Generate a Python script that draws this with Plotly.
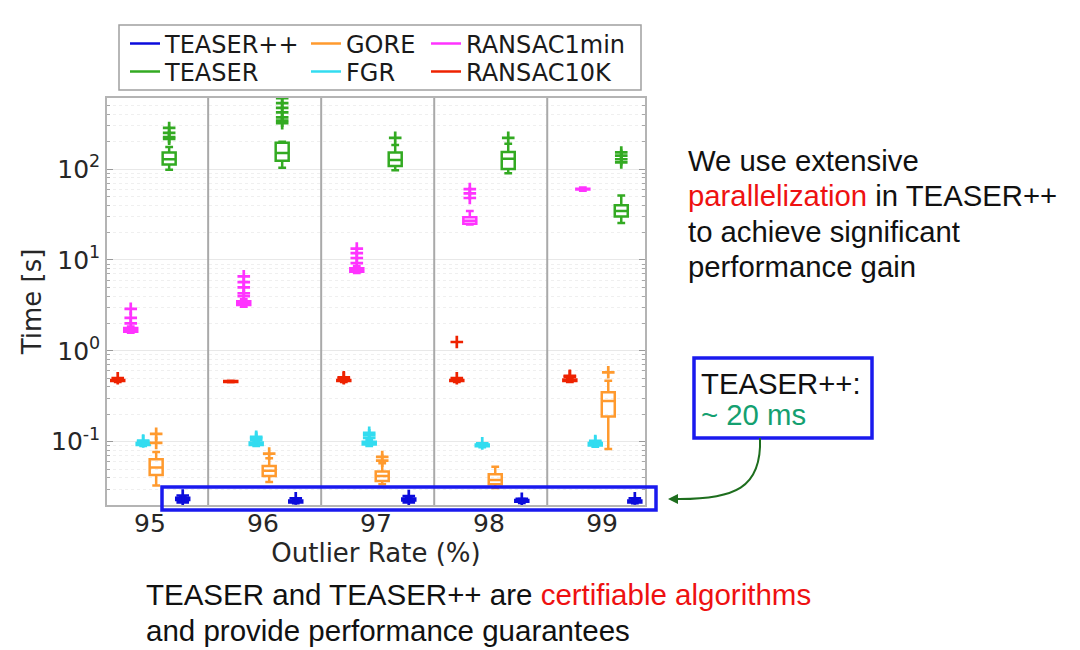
import plotly.graph_objects as go

# ---------------- data ----------------
rates = [95, 96, 97, 98, 99]
tick_text = ["95", "96", "97", "98", "99"]

algorithms = ["RANSAC10K", "RANSAC1min", "FGR", "GORE", "TEASER", "TEASER++"]

ransac10k_q1 = [0.465, 0.455, 0.465, 0.465, 0.465]
ransac10k_med = [0.470, 0.460, 0.470, 0.470, 0.475]
ransac10k_q3 = [0.478, 0.465, 0.478, 0.478, 0.485]
ransac10k_lo = [0.455, 0.452, 0.455, 0.455, 0.455]
ransac10k_hi = [0.490, 0.468, 0.490, 0.490, 0.500]
ransac10k_out = [[0.50], [], [0.50, 0.51], [0.50, 1.25], [0.52, 0.53]]

ransac1min_q1 = [1.62, 3.20, 7.4, 25.0, 59.5]
ransac1min_med = [1.70, 3.35, 7.7, 27.0, 60.0]
ransac1min_q3 = [1.78, 3.50, 8.1, 29.5, 60.5]
ransac1min_lo = [1.58, 3.05, 7.2, 24.5, 57.5]
ransac1min_hi = [1.85, 3.70, 8.5, 34.5, 62.5]
ransac1min_out = [[2.0, 2.3, 2.9], [4.0, 4.3, 5.0, 5.7, 6.6], [9.2, 10.5, 11.9, 13.3], [48, 54, 60], []]

fgr_q1 = [0.092, 0.092, 0.093, 0.089, 0.091]
fgr_med = [0.094, 0.095, 0.096, 0.091, 0.094]
fgr_q3 = [0.097, 0.098, 0.100, 0.093, 0.097]
fgr_lo = [0.090, 0.090, 0.090, 0.087, 0.088]
fgr_hi = [0.100, 0.102, 0.105, 0.095, 0.100]
fgr_out = [[0.101, 0.103], [0.105, 0.110, 0.113], [0.110, 0.118, 0.125], [0.096], [0.100, 0.102]]

gore_q1 = [0.043, 0.042, 0.037, 0.034, 0.19]
gore_med = [0.052, 0.048, 0.042, 0.038, 0.28]
gore_q3 = [0.064, 0.054, 0.047, 0.044, 0.35]
gore_lo = [0.033, 0.036, 0.034, 0.031, 0.083]
gore_hi = [0.077, 0.066, 0.058, 0.053, 0.47]
gore_out = [[0.097, 0.122], [0.074], [0.062, 0.068], [], [0.58]]

teaser_q1 = [112, 123, 108, 100, 30]
teaser_med = [128, 150, 126, 130, 34.5]
teaser_q3 = [152, 194, 152, 154, 40]
teaser_lo = [98, 103, 97, 90, 25.5]
teaser_hi = [175, 200, 184, 190, 51]
teaser_out = [[215, 225, 250, 283], [320, 340, 370, 420, 470, 530, 600], [220], [220], [118, 128, 140, 152]]

teaserpp_q1 = [0.0228, 0.0215, 0.0226, 0.0218, 0.0215]
teaserpp_med = [0.0235, 0.0220, 0.0232, 0.0222, 0.0220]
teaserpp_q3 = [0.0242, 0.0225, 0.0238, 0.0228, 0.0225]
teaserpp_lo = [0.0220, 0.0210, 0.0220, 0.0212, 0.0210]
teaserpp_hi = [0.0250, 0.0232, 0.0246, 0.0234, 0.0232]
teaserpp_out = [[0.0215, 0.0256], [0.0238], [0.0215, 0.0252], [0.0236], [0.0238]]

stats = {
    "RANSAC10K": (ransac10k_q1, ransac10k_med, ransac10k_q3, ransac10k_lo, ransac10k_hi, ransac10k_out),
    "RANSAC1min": (ransac1min_q1, ransac1min_med, ransac1min_q3, ransac1min_lo, ransac1min_hi, ransac1min_out),
    "FGR": (fgr_q1, fgr_med, fgr_q3, fgr_lo, fgr_hi, fgr_out),
    "GORE": (gore_q1, gore_med, gore_q3, gore_lo, gore_hi, gore_out),
    "TEASER": (teaser_q1, teaser_med, teaser_q3, teaser_lo, teaser_hi, teaser_out),
    "TEASER++": (teaserpp_q1, teaserpp_med, teaserpp_q3, teaserpp_lo, teaserpp_hi, teaserpp_out),
}

# ---------------- style ----------------
colors = {
    "TEASER++": "#0b0bdc",
    "TEASER": "#33aa22",
    "GORE": "#ff9a2e",
    "FGR": "#33dcf0",
    "RANSAC1min": "#ff33ff",
    "RANSAC10K": "#ee2200",
}
offsets = {"RANSAC10K": -0.285, "RANSAC1min": -0.17, "FGR": -0.06, "GORE": 0.055,
           "TEASER": 0.17, "TEASER++": 0.29}

CHART_FONT = "DejaVu Sans"
SLIDE_FONT = "Liberation Sans"

fig = go.Figure()

for name in algorithms:
    q1, med, q3, lo, hi, out = stats[name]
    xs = [r + offsets[name] for r in rates]
    fig.add_trace(go.Box(
        x=xs, q1=q1, median=med, q3=q3, lowerfence=lo, upperfence=hi,
        name=name, showlegend=False, boxpoints=False,
        width=0.115, whiskerwidth=0.6,
        line=dict(color=colors[name], width=2.5),
        fillcolor="rgba(255,255,255,0)",
        hoverinfo="skip",
    ))
    ox, oy = [], []
    for r, vals in zip(rates, out):
        for v in vals:
            ox.append(r + offsets[name])
            oy.append(v)
    fig.add_trace(go.Scatter(
        x=ox, y=oy, mode="markers", showlegend=False,
        marker=dict(symbol="cross-thin", size=9, color=colors[name],
                    line=dict(color=colors[name], width=2.7)),
        hoverinfo="skip",
    ))

# ---------------- geometry (page is offset by the 8px body margin) ----------------
PAGE_OFF = 8
W, H = 1080 - PAGE_OFF, 650 - PAGE_OFF
L, R, T, B = 107, 645, 98, 505          # plot area in screen pixels
pw, ph = R - L, B - T


def px(xp):
    return (xp - L) / pw


def py(yp):
    return (B - yp) / ph


# legend: one legend per entry, placed in a 3x2 grid
legend_slots = [
    ("TEASER++", 125, 44), ("GORE", 306, 44), ("RANSAC1min", 426, 44),
    ("TEASER", 125, 72), ("FGR", 306, 72), ("RANSAC10K", 426, 72),
]
legend_layout = {}
for i, (name, lx, lyp) in enumerate(legend_slots):
    key = "legend" if i == 0 else "legend%d" % (i + 1)
    fig.add_trace(go.Scatter(
        x=[None], y=[None], mode="lines", name=name, legend=key,
        line=dict(color=colors[name], width=2.5), showlegend=True,
    ))
    legend_layout[key] = dict(
        x=px(lx), y=py(lyp), xanchor="left", yanchor="middle", orientation="v",
        bgcolor="rgba(0,0,0,0)", borderwidth=0, itemclick=False,
        font=dict(family=CHART_FONT, size=24, color="#1a1a1a"))

minor_vals = []
for e in [0.01, 0.1, 1, 10, 100]:
    for k in range(2, 10):
        minor_vals.append(k * e)

fig.update_layout(
    width=W, height=H,
    margin=dict(l=L - PAGE_OFF, r=W - (R - PAGE_OFF), t=T - PAGE_OFF, b=H - (B - PAGE_OFF)),
    paper_bgcolor="white", plot_bgcolor="white",
    boxmode="overlay",
    font=dict(family=CHART_FONT, color="#262626"),
    xaxis=dict(
        range=[94.62, 99.38], tickmode="array", tickvals=rates, ticktext=tick_text,
        showgrid=False, zeroline=False, ticks="", ticklabelstandoff=-5,
        showline=True, linecolor="#b4b4b4", linewidth=1.5, mirror=True,
        tickfont=dict(size=25, family=CHART_FONT, color="#262626"),
        title=dict(text="Outlier Rate (%)", font=dict(size=26, family=CHART_FONT, color="#262626"),
                   standoff=0),
    ),
    yaxis=dict(
        type="log", range=[-1.696, 2.781],
        tickmode="array", tickvals=[0.1, 1, 10, 100],
        ticktext=["10<sup>-1</sup>", "10<sup>0</sup>", "10<sup>1</sup>", "10<sup>2</sup>"],
        ticks="inside", ticklen=6, tickcolor="#9a9a9a",
        showgrid=True, gridcolor="#e8e8e8", gridwidth=1, zeroline=False,
        showline=True, linecolor="#b4b4b4", linewidth=1.5, mirror="allticks",
        tickfont=dict(size=25, family=CHART_FONT, color="#262626"),
        minor=dict(tickmode="array", tickvals=minor_vals, ticks="inside", ticklen=3,
                   tickcolor="#a8a8a8", showgrid=True, gridcolor="#efefef", griddash="dot"),
        title=dict(text="Time [s]", font=dict(size=26, family=CHART_FONT, color="#262626"),
                   standoff=2),
    ),
    **legend_layout,
)

shapes = []
# group separators
for r in rates[:-1]:
    shapes.append(dict(type="line", xref="x", yref="paper", x0=r + 0.515, x1=r + 0.515,
                       y0=0, y1=1, line=dict(color="#a9a9a9", width=2)))
# legend frame
shapes.append(dict(type="rect", xref="paper", yref="paper",
                   x0=px(119), x1=px(641), y0=py(90), y1=py(25),
                   line=dict(color="#a0a0a0", width=1.5), fillcolor="rgba(0,0,0,0)"))
# highlight around TEASER++ row
shapes.append(dict(type="rect", xref="paper", yref="paper",
                   x0=px(162), x1=px(656), y0=py(510), y1=py(487),
                   line=dict(color="#1a1aee", width=3.5)))
# TEASER++ callout box
shapes.append(dict(type="rect", xref="paper", yref="paper",
                   x0=px(694), x1=px(872), y0=py(438), y1=py(358),
                   line=dict(color="#1a1aee", width=3.5), fillcolor="white"))
# curved arrow
path = "M {a},{b} C {c},{d} {e},{f} {g},{h}".format(
    a=px(760), b=py(438), c=px(762), d=py(488), e=px(735), f=py(500), g=px(674), h=py(499))
shapes.append(dict(type="path", xref="paper", yref="paper", path=path,
                   line=dict(color="#1e6e1e", width=2)))
fig.update_layout(shapes=shapes)

ann = []
ann.append(dict(xref="paper", yref="paper", x=px(668), y=py(499), ax=14, ay=0,
                text="", showarrow=True, arrowhead=2, arrowsize=1, arrowwidth=2,
                arrowcolor="#1e6e1e"))
slide = dict(family=SLIDE_FONT, size=29.3, color="#111111")
ann.append(dict(xref="paper", yref="paper", x=px(699), y=py(383), xanchor="left",
                yanchor="middle", text="TEASER++:", showarrow=False, font=slide))
ann.append(dict(xref="paper", yref="paper", x=px(699), y=py(414), xanchor="left",
                yanchor="middle", text="~ 20 ms", showarrow=False,
                font=dict(family=SLIDE_FONT, size=29.3, color="#14a070")))
right_lines = [
    ("We use extensive", 160),
    ("<span style='color:#ee1111'>parallelization</span> in TEASER++", 195),
    ("to achieve significant", 231),
    ("performance gain", 266),
]
for txt, yy in right_lines:
    ann.append(dict(xref="paper", yref="paper", x=px(686), y=py(yy), xanchor="left",
                    yanchor="middle", text=txt, showarrow=False, font=slide))
bottom_lines = [
    ("TEASER and TEASER++ are <span style='color:#ee1111'>certifiable algorithms</span>", 594),
    ("and provide performance guarantees", 630),
]
for txt, yy in bottom_lines:
    ann.append(dict(xref="paper", yref="paper", x=px(144), y=py(yy), xanchor="left",
                    yanchor="middle", text=txt, showarrow=False,
                    font=dict(family=SLIDE_FONT, size=29.5, color="#111111")))
fig.update_layout(annotations=ann)

fig.write_html("out.html")
